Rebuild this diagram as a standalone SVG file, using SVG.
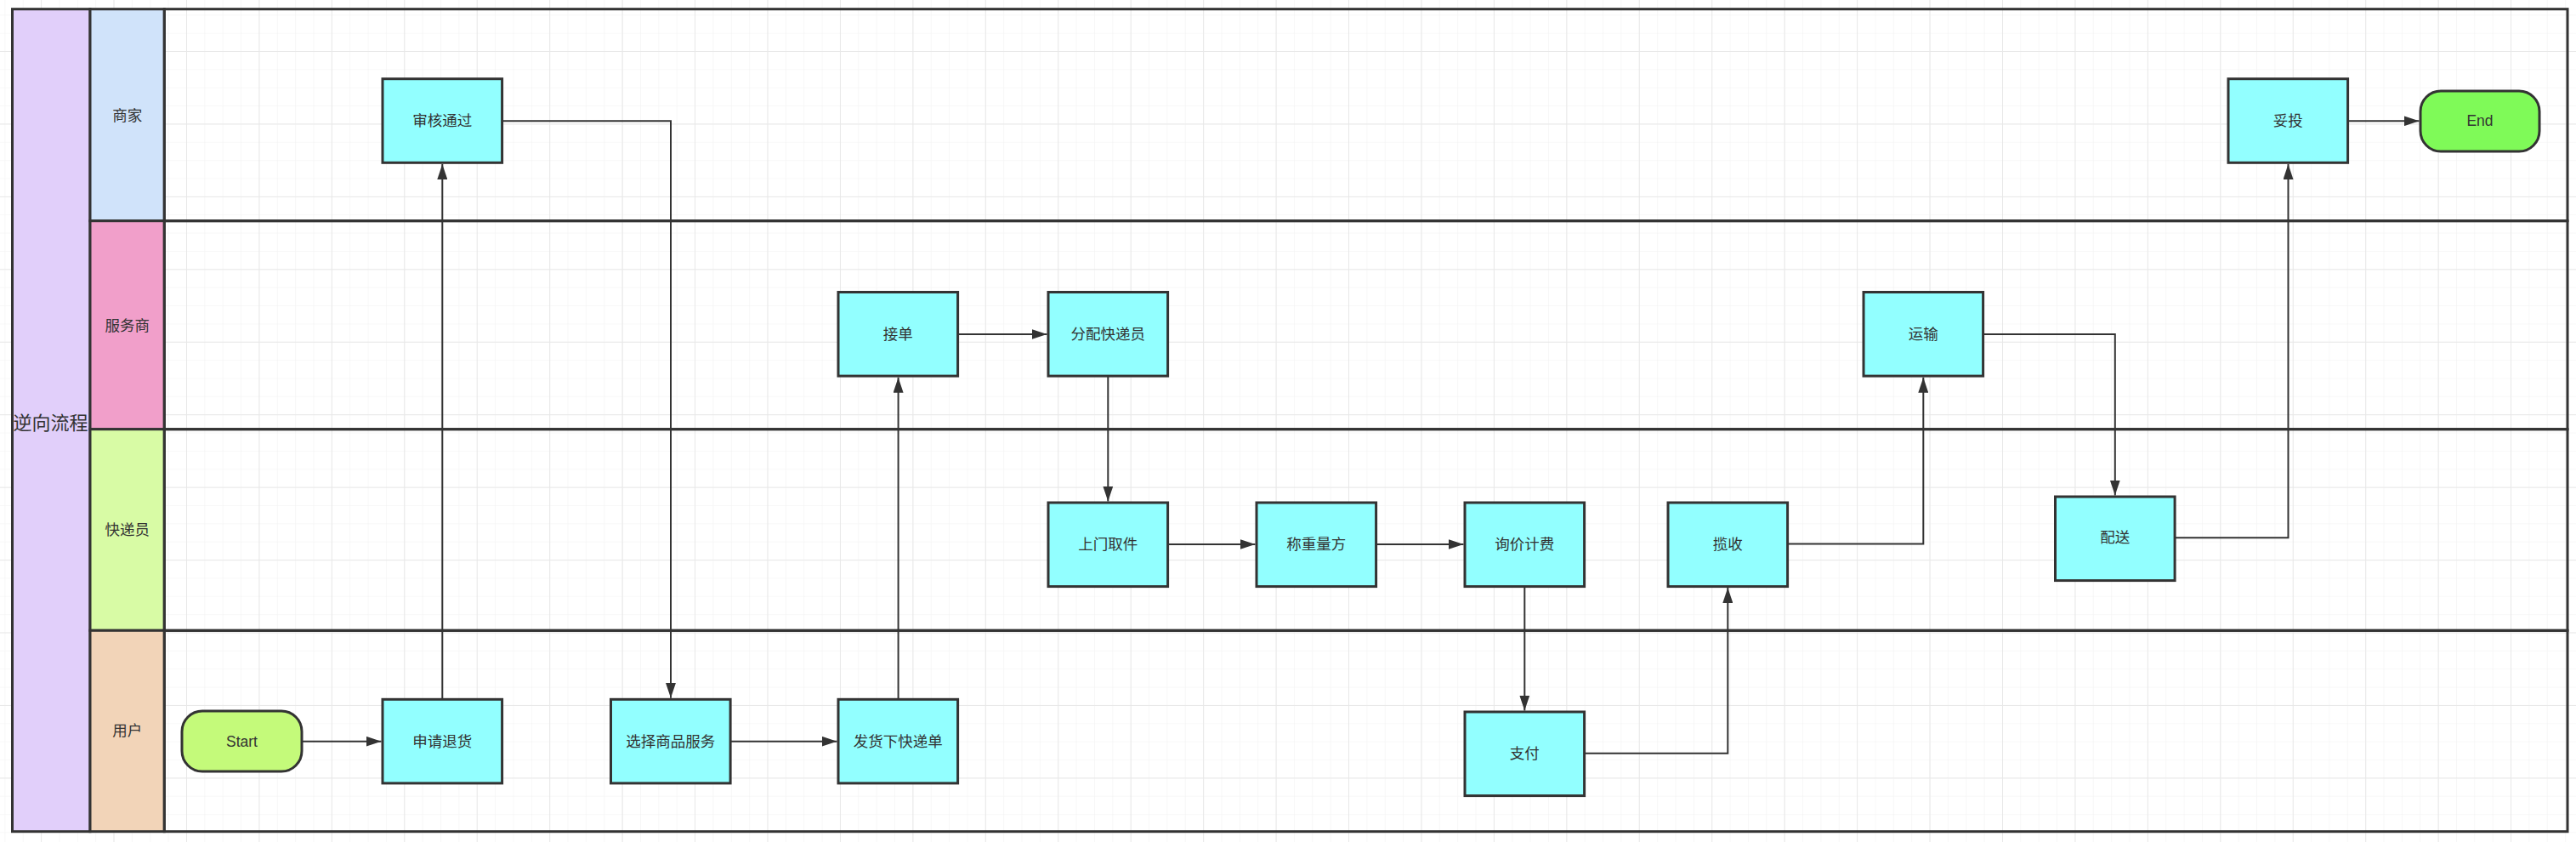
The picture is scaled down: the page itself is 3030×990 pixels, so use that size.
<svg xmlns="http://www.w3.org/2000/svg" width="3030" height="990" viewBox="0 0 3030 990">
<style>
text{font-family:"Liberation Sans","Noto Sans CJK SC",sans-serif;fill:#333;text-anchor:middle;dominant-baseline:central;font-size:17.5px}
.box{fill:#92FFFF;stroke:#333;stroke-width:3}
.frame{fill:none;stroke:#333;stroke-width:3}
.conn{fill:none;stroke:#333;stroke-width:2}
.title{font-size:22px;font-family:"Noto Sans CJK SC",sans-serif}
</style>
<defs>
<pattern id="minor" x="48.1" y="60" width="21.36" height="21.36" patternUnits="userSpaceOnUse">
<path d="M0,0 H21.36 M0,0 V21.36" stroke="#f2f2f2" stroke-width="1.2" fill="none"/>
</pattern>
<pattern id="major" x="48.1" y="60" width="85.44" height="85.44" patternUnits="userSpaceOnUse">
<path d="M0,0 H85.44 M0,0 V85.44" stroke="#e8e8e8" stroke-width="2" fill="none"/>
</pattern>
<marker id="arr" markerUnits="userSpaceOnUse" markerWidth="18" markerHeight="12" refX="18" refY="6" orient="auto">
<path d="M0,0 L18,6 L0,12 z" fill="#333"/>
</marker>
</defs>
<rect width="3030" height="990" fill="#fff"/>
<rect width="3030" height="990" fill="url(#minor)"/>
<rect width="3030" height="990" fill="url(#major)"/>

<g id="pool">
<rect x="14.5" y="10.7" width="91.5" height="967" fill="#E1CFFA" stroke="#333" stroke-width="3"/>
<text class="title" x="59.5" y="495">逆向流程</text>
</g>
<g id="lane-merchant">
<rect x="106" y="10.7" width="87.3" height="249" fill="#D0E3FA" stroke="#333" stroke-width="3"/>
<rect x="193.3" y="10.7" width="2826.7" height="249" class="frame"/>
<text x="149.7" y="136">商家</text>
</g>
<g id="lane-provider">
<rect x="106" y="259.7" width="87.3" height="245" fill="#F19FCA" stroke="#333" stroke-width="3"/>
<rect x="193.3" y="259.7" width="2826.7" height="245" class="frame"/>
<text x="149.7" y="383">服务商</text>
</g>
<g id="lane-courier">
<rect x="106" y="504.7" width="87.3" height="236.6" fill="#D8FBA5" stroke="#333" stroke-width="3"/>
<rect x="193.3" y="504.7" width="2826.7" height="236.6" class="frame"/>
<text x="149.7" y="623">快递员</text>
</g>
<g id="lane-user">
<rect x="106" y="741.3" width="87.3" height="236.4" fill="#F2D4B8" stroke="#333" stroke-width="3"/>
<rect x="193.3" y="741.3" width="2826.7" height="236.4" class="frame"/>
<text x="149.7" y="859">用户</text>
</g>

<g id="connectors">
<path class="conn" marker-end="url(#arr)" d="M355,871.7 H448.5"/>
<path class="conn" marker-end="url(#arr)" d="M520.3,822.3 V193"/>
<path class="conn" marker-end="url(#arr)" d="M590.6,142.3 H789 V820.8"/>
<path class="conn" marker-end="url(#arr)" d="M859,871.7 H984.5"/>
<path class="conn" marker-end="url(#arr)" d="M1056.6,822.3 V443.8"/>
<path class="conn" marker-end="url(#arr)" d="M1126.6,393 H1231.5"/>
<path class="conn" marker-end="url(#arr)" d="M1303.3,442.1 V589.5"/>
<path class="conn" marker-end="url(#arr)" d="M1373.6,640 H1476.5"/>
<path class="conn" marker-end="url(#arr)" d="M1618.6,640 H1721.5"/>
<path class="conn" marker-end="url(#arr)" d="M1793.3,689.6 V835.5"/>
<path class="conn" marker-end="url(#arr)" d="M1863.6,885.7 H2032.3 V691"/>
<path class="conn" marker-end="url(#arr)" d="M2102.6,639.6 H2262.3 V443.8"/>
<path class="conn" marker-end="url(#arr)" d="M2332.6,393 H2487.8 V582.5"/>
<path class="conn" marker-end="url(#arr)" d="M2558.1,632.3 H2691.5 V193"/>
<path class="conn" marker-end="url(#arr)" d="M2761.6,142.3 H2845.5"/>
</g>

<g id="n-start"><rect x="214" y="836" width="141" height="71" rx="24" ry="24" fill="#C4FA7A" stroke="#333" stroke-width="3"/><text x="284.5" y="871.7">Start</text></g>
<g id="n-apply"><rect class="box" x="450" y="822.3" width="140.6" height="98.6"/><text x="520.3" y="871.7">申请退货</text></g>
<g id="n-approve"><rect class="box" x="450" y="92.7" width="140.6" height="98.6"/><text x="520.3" y="142.3">审核通过</text></g>
<g id="n-select"><rect class="box" x="718.5" y="822.3" width="140.6" height="98.6"/><text x="788.8" y="871.7">选择商品服务</text></g>
<g id="n-ship"><rect class="box" x="986" y="822.3" width="140.6" height="98.6"/><text x="1056.3" y="871.7">发货下快递单</text></g>
<g id="n-accept"><rect class="box" x="986" y="343.5" width="140.6" height="98.6"/><text x="1056.3" y="393">接单</text></g>
<g id="n-assign"><rect class="box" x="1233" y="343.5" width="140.6" height="98.6"/><text x="1303.3" y="393">分配快递员</text></g>
<g id="n-pickup"><rect class="box" x="1233" y="591" width="140.6" height="98.6"/><text x="1303.3" y="640">上门取件</text></g>
<g id="n-weigh"><rect class="box" x="1478" y="591" width="140.6" height="98.6"/><text x="1548.3" y="640">称重量方</text></g>
<g id="n-price"><rect class="box" x="1723" y="591" width="140.6" height="98.6"/><text x="1793.3" y="640">询价计费</text></g>
<g id="n-collect"><rect class="box" x="1962" y="591" width="140.6" height="98.6"/><text x="2032.3" y="640">揽收</text></g>
<g id="n-pay"><rect class="box" x="1723" y="837" width="140.6" height="98.6"/><text x="1793.3" y="885.7">支付</text></g>
<g id="n-transport"><rect class="box" x="2192" y="343.5" width="140.6" height="98.6"/><text x="2262.3" y="393">运输</text></g>
<g id="n-deliver"><rect class="box" x="2417.5" y="584" width="140.6" height="98.6"/><text x="2487.8" y="632.3">配送</text></g>
<g id="n-done"><rect class="box" x="2621" y="92.7" width="140.6" height="98.6"/><text x="2691.3" y="142.3">妥投</text></g>
<g id="n-end"><rect x="2847" y="107" width="140" height="71" rx="24" ry="24" fill="#7FFA58" stroke="#333" stroke-width="3"/><text x="2917" y="142.3">End</text></g>
</svg>
